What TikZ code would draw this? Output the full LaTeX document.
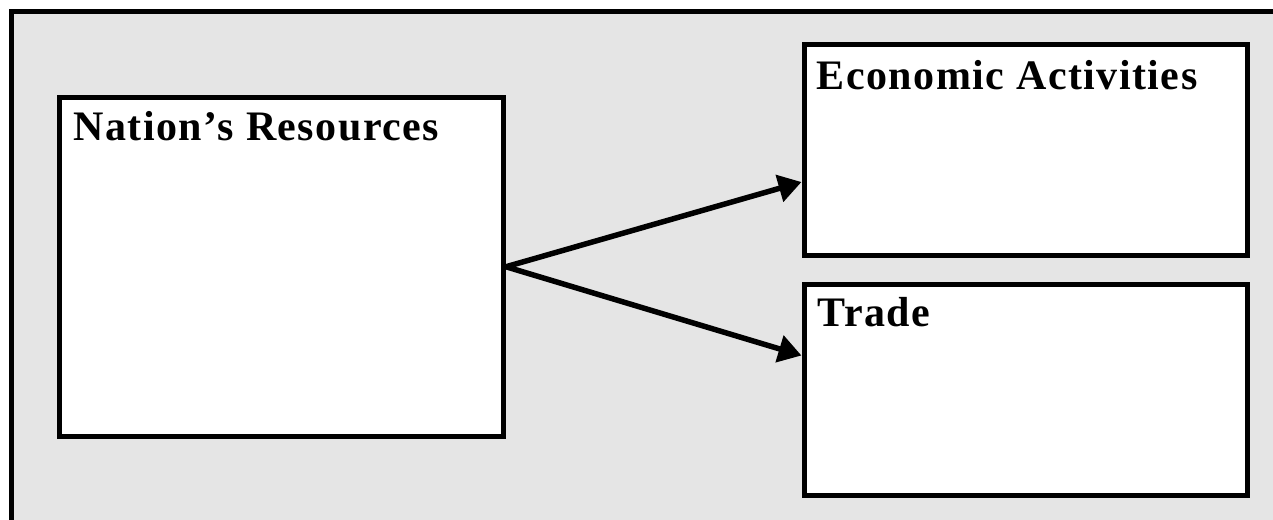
\documentclass[tikz,border=0pt]{standalone}
\usepackage{fontspec}
\setmainfont{Liberation Serif}
\newfontfamily\boxfont[LetterSpace=3.5]{Liberation Serif}
\usepackage{tikz}
\usetikzlibrary{positioning, arrows.meta}

\tikzset{
    frame/.style={fill=gray!20, draw=black, line width=5pt},
    box/.style={draw=black, fill=white, line width=5pt, inner sep=0pt},
    title/.style={anchor=base west, inner sep=0pt, font=\boxfont\bfseries\fontsize{42}{48}\selectfont},
    link/.style={line width=5.5pt, -{Triangle[length=23pt,width=27pt]}}
}

\begin{document}
\begin{tikzpicture}[x=1pt, y=1pt]
        \useasboundingbox (0,0) rectangle (1273,-519);
        \clip (0,0) rectangle (1273,-519);
        \draw[frame] (11.5,-11.5) rectangle (1300,-560);
        \node[box, minimum width=444pt, minimum height=338.5pt] (nation) at (281.5,-266.75) {};
        \node[box, minimum width=443.5pt, minimum height=211pt] (econ) at (1025.75,-150) {};
        \node[box, minimum width=443.5pt, minimum height=211pt] (trade) at (1025.75,-389.5) {};
        % titles
        \node[title] (nationtxt) at ([shift={(16.5,-45.5)}]nation.north west) {Nation’s Resources};
        \node[title] (econtxt) at ([shift={(15,-47)}]econ.north west) {Economic Activities};
        \node[title] (tradetxt) at ([shift={(16,-44.5)}]trade.north west) {Trade};
        \draw[link] (nation.east) -- ([yshift=-32pt]econ.west);
        \draw[link] (nation.east) -- ([yshift=34pt]trade.west);
    \end{tikzpicture}
\end{document}
